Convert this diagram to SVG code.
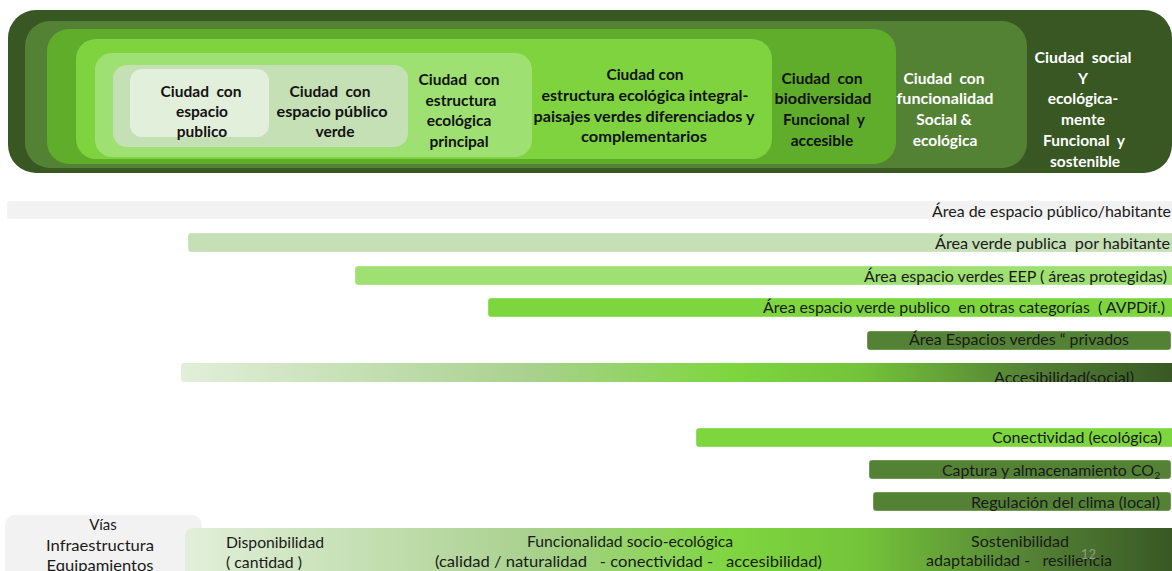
<svg xmlns="http://www.w3.org/2000/svg" width="1172" height="571" viewBox="0 0 1172 571">
<style>
text { white-space: pre; }
.tb { font-family: Lato, "Open Sans", "Liberation Sans", sans-serif; font-weight: 700; font-size: 15.5px; text-anchor: middle; fill: #121212; }
.tw { fill: #ffffff; }
.tr { font-family: Lato, "Open Sans", "Liberation Sans", sans-serif; font-weight: 400; font-size: 15px; fill: #1a1a1a; }
.end { text-anchor: end; }
.mid { text-anchor: middle; }
.sub { font-size: 10px; }
.pg { font-size: 13px; fill: #9aa590; opacity: 0.85; }
.bar { stroke: #ffffff; stroke-opacity: 0.35; stroke-width: 1; }
</style>
<defs>
<linearGradient id="gSoc" x1="0" y1="0" x2="1" y2="0">
<stop offset="0" stop-color="#e2efda"/>
<stop offset="0.35" stop-color="#a9d18e"/>
<stop offset="0.55" stop-color="#7ed63f"/>
<stop offset="0.68" stop-color="#74c43a"/>
<stop offset="0.85" stop-color="#548235"/>
<stop offset="1" stop-color="#375623"/>
</linearGradient>
<clipPath id="clipAcc"><rect x="181" y="363" width="991" height="19"/></clipPath>
</defs>

<g id="n-ciudad-social-ecologica">
<rect x="8" y="10" width="1164" height="163" rx="28" fill="#385723"/>
<text class="tb tw" x="1083" y="63" textLength="97" lengthAdjust="spacingAndGlyphs">Ciudad  social</text>
<text class="tb tw" x="1083" y="83.5">Y</text>
<text class="tb tw" x="1083" y="104">ecológica-</text>
<text class="tb tw" x="1083" y="125">mente</text>
<text class="tb tw" x="1084" y="145.5">Funcional  y</text>
<text class="tb tw" x="1085" y="166.5">sostenible</text>
</g>

<g id="n-ciudad-funcionalidad">
<rect x="25" y="21" width="1002" height="147" rx="25" fill="#548235"/>
<text class="tb tw" x="944" y="84">Ciudad  con</text>
<text class="tb tw" x="945" y="104" textLength="97" lengthAdjust="spacingAndGlyphs">funcionalidad</text>
<text class="tb tw" x="944" y="125">Social &amp;</text>
<text class="tb tw" x="945" y="145.5">ecológica</text>
</g>

<g id="n-ciudad-biodiversidad">
<rect x="47" y="29" width="849" height="135" rx="22" fill="#5fad2b"/>
<text class="tb" x="822" y="83.5">Ciudad  con</text>
<text class="tb" x="823" y="104" textLength="97" lengthAdjust="spacingAndGlyphs">biodiversidad</text>
<text class="tb" x="824" y="125">Funcional  y</text>
<text class="tb" x="822" y="145.5">accesible</text>
</g>

<g id="n-ciudad-estructura-integral">
<rect x="76" y="39" width="696" height="120" rx="20" fill="#7fd33f"/>
<text class="tb" x="645" y="80">Ciudad con</text>
<text class="tb" x="645" y="101" textLength="207" lengthAdjust="spacingAndGlyphs">estructura ecológica integral-</text>
<text class="tb" x="644" y="121.5" textLength="221" lengthAdjust="spacingAndGlyphs">paisajes verdes diferenciados y</text>
<text class="tb" x="644" y="142" textLength="126" lengthAdjust="spacingAndGlyphs">complementarios</text>
</g>

<g id="n-ciudad-estructura-principal">
<rect x="95" y="53" width="437" height="104" rx="17" fill="#9fe072"/>
<text class="tb" x="459" y="85">Ciudad  con</text>
<text class="tb" x="461" y="105.5">estructura</text>
<text class="tb" x="459" y="126">ecológica</text>
<text class="tb" x="459" y="146.5">principal</text>
</g>

<g id="n-ciudad-espacio-verde">
<rect x="113" y="65" width="295" height="82" rx="14" fill="#c5e0b4"/>
<text class="tb" x="330" y="97">Ciudad  con</text>
<text class="tb" x="332" y="117" textLength="111" lengthAdjust="spacingAndGlyphs">espacio público</text>
<text class="tb" x="335" y="137">verde</text>
</g>

<g id="n-ciudad-espacio-publico">
<rect x="130" y="69" width="139" height="68" rx="12" fill="#e2efda"/>
<text class="tb" x="201" y="97">Ciudad  con</text>
<text class="tb" x="202" y="117">espacio</text>
<text class="tb" x="202" y="137">publico</text>
</g>

<g id="b-espacio-publico">
<rect class="bar" x="7" y="201" width="1170" height="18" rx="3" fill="#f2f2f2"/>
<text class="tr end" x="1171" y="216.5" textLength="239" lengthAdjust="spacingAndGlyphs">Área de espacio público/habitante</text>
</g>
<g id="b-area-verde">
<rect class="bar" x="188" y="233" width="990" height="19" rx="3" fill="#c5e0b4"/>
<text class="tr end" x="1170" y="249" textLength="235" lengthAdjust="spacingAndGlyphs">Área verde publica  por habitante</text>
</g>
<g id="b-eep">
<rect class="bar" x="355" y="266" width="823" height="19" rx="3" fill="#9fe072"/>
<text class="tr end" x="1167" y="281.5" textLength="303" lengthAdjust="spacingAndGlyphs">Área espacio verdes EEP ( áreas protegidas)</text>
</g>
<g id="b-avpdif">
<rect class="bar" x="488" y="298" width="690" height="19" rx="3" fill="#7ed63f"/>
<text class="tr end" x="1165" y="313" textLength="402" lengthAdjust="spacingAndGlyphs">Área espacio verde publico  en otras categorías  ( AVPDif.)</text>
</g>
<g id="b-privados">
<rect class="bar" x="867" y="331" width="304" height="19" rx="3" fill="#548235"/>
<text class="tr mid tw" x="1019" y="345" textLength="220" lengthAdjust="spacingAndGlyphs">Área Espacios verdes “ privados</text>
</g>
<g id="b-accesibilidad">
<rect x="181" y="363" width="997" height="19" rx="3" fill="url(#gSoc)"/>
<g clip-path="url(#clipAcc)">
<text class="tr mid tw" x="1064" y="383" textLength="140" lengthAdjust="spacingAndGlyphs">Accesibilidad(social)</text>
</g>
</g>
<g id="b-conectividad">
<rect class="bar" x="696" y="428" width="482" height="19" rx="3" fill="#7ed63f"/>
<text class="tr end" x="1162" y="443" textLength="170" lengthAdjust="spacingAndGlyphs">Conectividad (ecológica)</text>
</g>
<g id="b-captura">
<rect class="bar" x="869" y="460" width="302" height="19" rx="3" fill="#548235"/>
<text class="tr end tw" x="1154" y="475.5" textLength="212" lengthAdjust="spacingAndGlyphs">Captura y almacenamiento CO</text>
<text class="tr tw sub" x="1154.5" y="478.5">2</text>
</g>
<g id="b-regulacion">
<rect class="bar" x="873" y="492" width="298" height="19" rx="3" fill="#548235"/>
<text class="tr end tw" x="1160" y="508" textLength="189" lengthAdjust="spacingAndGlyphs">Regulación del clima (local)</text>
</g>

<g id="n-vias">
<rect x="5" y="515" width="197" height="70" rx="10" fill="#f2f2f2"/>
<text class="tr mid" x="103" y="530">Vías</text>
<text class="tr mid" x="100" y="550.5" textLength="108" lengthAdjust="spacingAndGlyphs">Infraestructura</text>
<text class="tr mid" x="100" y="570.5" textLength="107" lengthAdjust="spacingAndGlyphs">Equipamientos</text>
</g>

<g id="n-escala">
<rect x="185" y="528" width="995" height="60" rx="8" fill="url(#gSoc)"/>
<text class="tr" x="226" y="548" textLength="98" lengthAdjust="spacingAndGlyphs">Disponibilidad</text>
<text class="tr" x="226" y="568" textLength="76" lengthAdjust="spacingAndGlyphs">( cantidad )</text>
<text class="tr mid" x="630" y="547" textLength="206" lengthAdjust="spacingAndGlyphs">Funcionalidad socio-ecológica</text>
<text class="tr" x="435" y="567" textLength="387" lengthAdjust="spacingAndGlyphs">(calidad / naturalidad   - conectividad -   accesibilidad)</text>
<text class="tr mid tw" x="1020" y="547" textLength="98" lengthAdjust="spacingAndGlyphs">Sostenibilidad</text>
<text class="tr tw" x="926" y="566" textLength="186" lengthAdjust="spacingAndGlyphs">adaptabilidad -   resiliencia</text>
<text class="tr pg" x="1081" y="559">12</text>
</g>
</svg>
